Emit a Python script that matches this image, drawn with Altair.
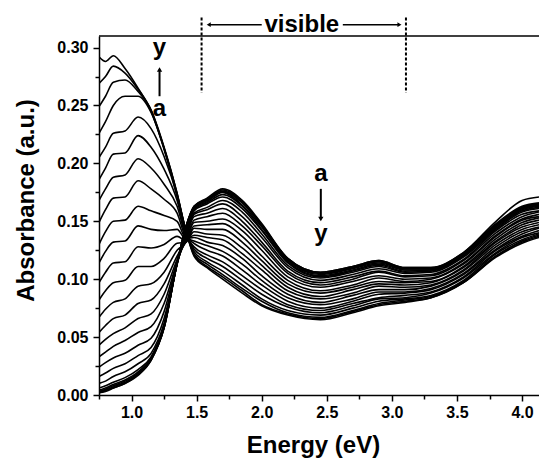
import altair as alt
import pandas as pd

# ---------------- data ----------------
energy = [0.75, 0.80, 0.86, 0.95, 1.05, 1.15, 1.25, 1.35, 1.42, 1.48,
          1.58, 1.70, 1.85, 2.00, 2.20, 2.45, 2.70, 2.90, 3.10, 3.30,
          3.55, 3.80, 4.00, 4.13]

curve_a = [0.002, 0.003, 0.006, 0.010, 0.017, 0.030, 0.058, 0.114, 0.146, 0.163, 0.170, 0.178, 0.168, 0.148, 0.118, 0.106, 0.111, 0.116, 0.110, 0.110, 0.123, 0.150, 0.168, 0.171]
curve_b = [0.002, 0.004, 0.006, 0.010, 0.018, 0.030, 0.058, 0.114, 0.146, 0.163, 0.169, 0.177, 0.167, 0.147, 0.118, 0.106, 0.111, 0.116, 0.110, 0.110, 0.123, 0.148, 0.163, 0.166]
curve_c = [0.003, 0.004, 0.007, 0.011, 0.018, 0.031, 0.058, 0.114, 0.146, 0.162, 0.169, 0.176, 0.166, 0.147, 0.117, 0.105, 0.110, 0.115, 0.109, 0.109, 0.122, 0.147, 0.162, 0.165]
curve_d = [0.003, 0.005, 0.008, 0.012, 0.019, 0.031, 0.059, 0.114, 0.146, 0.162, 0.168, 0.176, 0.166, 0.146, 0.117, 0.105, 0.110, 0.115, 0.109, 0.109, 0.122, 0.147, 0.162, 0.165]
curve_e = [0.004, 0.006, 0.009, 0.013, 0.020, 0.032, 0.059, 0.114, 0.145, 0.161, 0.167, 0.175, 0.164, 0.145, 0.116, 0.104, 0.109, 0.114, 0.109, 0.109, 0.122, 0.146, 0.161, 0.164]
curve_f = [0.006, 0.008, 0.011, 0.015, 0.022, 0.033, 0.060, 0.113, 0.144, 0.160, 0.166, 0.173, 0.163, 0.143, 0.115, 0.103, 0.108, 0.113, 0.108, 0.108, 0.121, 0.146, 0.161, 0.164]
curve_g = [0.010, 0.012, 0.016, 0.020, 0.027, 0.036, 0.062, 0.113, 0.142, 0.159, 0.165, 0.171, 0.161, 0.142, 0.114, 0.102, 0.107, 0.112, 0.107, 0.108, 0.121, 0.145, 0.160, 0.163]
curve_h = [0.016, 0.019, 0.023, 0.027, 0.034, 0.041, 0.066, 0.113, 0.140, 0.157, 0.162, 0.168, 0.158, 0.139, 0.112, 0.101, 0.106, 0.111, 0.106, 0.107, 0.120, 0.144, 0.159, 0.162]
curve_i = [0.024, 0.028, 0.032, 0.036, 0.043, 0.049, 0.072, 0.114, 0.138, 0.156, 0.160, 0.165, 0.154, 0.136, 0.110, 0.099, 0.104, 0.109, 0.105, 0.106, 0.119, 0.143, 0.158, 0.161]
curve_j = [0.033, 0.037, 0.042, 0.047, 0.054, 0.059, 0.079, 0.115, 0.136, 0.154, 0.157, 0.161, 0.150, 0.132, 0.107, 0.097, 0.102, 0.107, 0.103, 0.104, 0.117, 0.142, 0.156, 0.159]
curve_k = [0.043, 0.048, 0.053, 0.058, 0.066, 0.070, 0.087, 0.117, 0.134, 0.151, 0.154, 0.157, 0.146, 0.129, 0.105, 0.095, 0.100, 0.106, 0.102, 0.103, 0.116, 0.140, 0.154, 0.158]
curve_l = [0.054, 0.060, 0.066, 0.069, 0.079, 0.082, 0.096, 0.120, 0.133, 0.149, 0.150, 0.152, 0.142, 0.125, 0.102, 0.093, 0.098, 0.103, 0.100, 0.101, 0.114, 0.138, 0.152, 0.156]
curve_m = [0.067, 0.074, 0.080, 0.083, 0.094, 0.096, 0.106, 0.125, 0.132, 0.146, 0.147, 0.148, 0.137, 0.120, 0.099, 0.090, 0.095, 0.101, 0.098, 0.100, 0.113, 0.137, 0.151, 0.154]
curve_n = [0.082, 0.090, 0.097, 0.099, 0.111, 0.111, 0.118, 0.131, 0.132, 0.144, 0.143, 0.143, 0.132, 0.116, 0.096, 0.088, 0.093, 0.098, 0.097, 0.098, 0.111, 0.135, 0.149, 0.153]
curve_o = [0.097, 0.106, 0.114, 0.115, 0.128, 0.127, 0.130, 0.137, 0.133, 0.141, 0.139, 0.138, 0.127, 0.112, 0.093, 0.085, 0.091, 0.096, 0.095, 0.097, 0.110, 0.133, 0.147, 0.151]
curve_p = [0.114, 0.124, 0.132, 0.133, 0.146, 0.143, 0.142, 0.143, 0.134, 0.138, 0.136, 0.134, 0.122, 0.108, 0.090, 0.083, 0.088, 0.094, 0.093, 0.095, 0.108, 0.132, 0.145, 0.149]
curve_q = [0.130, 0.141, 0.150, 0.151, 0.163, 0.159, 0.155, 0.150, 0.135, 0.136, 0.132, 0.129, 0.118, 0.103, 0.087, 0.080, 0.086, 0.091, 0.091, 0.094, 0.107, 0.130, 0.143, 0.147]
curve_r = [0.149, 0.160, 0.170, 0.171, 0.185, 0.178, 0.169, 0.157, 0.136, 0.133, 0.129, 0.124, 0.113, 0.099, 0.084, 0.078, 0.083, 0.089, 0.089, 0.092, 0.105, 0.128, 0.141, 0.145]
curve_s = [0.168, 0.178, 0.188, 0.190, 0.204, 0.196, 0.182, 0.163, 0.137, 0.131, 0.125, 0.120, 0.108, 0.095, 0.081, 0.075, 0.081, 0.087, 0.088, 0.091, 0.104, 0.126, 0.139, 0.144]
curve_t = [0.186, 0.196, 0.208, 0.209, 0.224, 0.214, 0.195, 0.168, 0.138, 0.128, 0.121, 0.115, 0.103, 0.091, 0.078, 0.073, 0.079, 0.084, 0.086, 0.089, 0.102, 0.125, 0.137, 0.142]
curve_u = [0.205, 0.214, 0.226, 0.228, 0.240, 0.230, 0.206, 0.172, 0.139, 0.126, 0.118, 0.111, 0.099, 0.087, 0.076, 0.071, 0.077, 0.083, 0.084, 0.088, 0.101, 0.123, 0.136, 0.140]
curve_v = [0.226, 0.236, 0.250, 0.258, 0.258, 0.244, 0.213, 0.174, 0.140, 0.124, 0.115, 0.107, 0.095, 0.083, 0.073, 0.069, 0.075, 0.081, 0.083, 0.086, 0.099, 0.122, 0.134, 0.139]
curve_w = [0.249, 0.258, 0.270, 0.272, 0.262, 0.246, 0.214, 0.174, 0.141, 0.122, 0.113, 0.104, 0.092, 0.081, 0.071, 0.067, 0.073, 0.079, 0.082, 0.085, 0.098, 0.120, 0.133, 0.138]
curve_x = [0.269, 0.275, 0.284, 0.278, 0.264, 0.246, 0.213, 0.173, 0.141, 0.121, 0.111, 0.102, 0.090, 0.078, 0.070, 0.066, 0.072, 0.078, 0.081, 0.084, 0.097, 0.120, 0.132, 0.137]
curve_y = [0.292, 0.288, 0.293, 0.282, 0.265, 0.245, 0.212, 0.172, 0.141, 0.120, 0.110, 0.100, 0.088, 0.077, 0.069, 0.065, 0.071, 0.077, 0.080, 0.084, 0.097, 0.119, 0.131, 0.136]

curve_names = list("abcdefghijklmnopqrstuvwxy")
curves = [curve_a, curve_b, curve_c, curve_d, curve_e, curve_f, curve_g, curve_h,
          curve_i, curve_j, curve_k, curve_l, curve_m, curve_n, curve_o, curve_p,
          curve_q, curve_r, curve_s, curve_t, curve_u, curve_v, curve_w, curve_x,
          curve_y]

x_major = [1.0, 1.5, 2.0, 2.5, 3.0, 3.5, 4.0]
x_minor = [0.75, 1.25, 1.75, 2.25, 2.75, 3.25, 3.75]
y_major = [0.0, 0.05, 0.10, 0.15, 0.20, 0.25, 0.30]
y_minor = [0.025, 0.075, 0.125, 0.175, 0.225, 0.275]

# annotations
letter_text = ["y", "a", "a", "y"]
letter_energy = [1.215, 1.215, 2.454, 2.454]
letter_abs = [0.294, 0.241, 0.185, 0.133]

arrow_energy = [1.215, 2.454]
arrow_from = [0.258, 0.178]
arrow_to = [0.281, 0.152]
head_shape = ["triangle-up", "triangle-down"]

visible_edges = [1.538, 3.108]
visible_top = 0.326
visible_bottom = 0.261
visible_label = "visible"
visible_center = 2.308
visible_baseline = 0.3138
visible_arrow_level = 0.3198
visible_shaft_from = [1.60, 2.623]
visible_shaft_to = [2.00, 3.050]
visible_head_energy = [1.593, 3.058]
visible_head_shape = ["triangle-left", "triangle-right"]

# ---------------- tables ----------------
rows = []
for name, vals in zip(curve_names, curves):
    for e, v in zip(energy, vals):
        rows.append({"curve": name, "energy": e, "absorbance": v})
df = pd.DataFrame(rows)

letters_df = pd.DataFrame({"energy": letter_energy, "absorbance": letter_abs, "txt": letter_text})
arrows_df = pd.DataFrame({"energy": arrow_energy, "absorbance": arrow_from, "a2": arrow_to, "shape": head_shape})
dash_df = pd.DataFrame({"energy": visible_edges, "absorbance": [visible_top] * 2,
                        "a2": [visible_bottom] * 2})
vis_text_df = pd.DataFrame({"energy": [visible_center], "absorbance": [visible_baseline],
                            "txt": [visible_label]})
vis_shaft_df = pd.DataFrame({"energy": visible_shaft_from, "e2": visible_shaft_to,
                             "absorbance": [visible_arrow_level] * 2})
vis_head_df = pd.DataFrame({"energy": visible_head_energy,
                            "absorbance": [visible_arrow_level] * 2,
                            "shape": visible_head_shape})
minor_df = pd.DataFrame({"energy": [x_minor[0]], "absorbance": [y_minor[0]]})

FONT = "Liberation Sans"
x_scale = alt.Scale(domain=[0.75, 4.13], nice=False, zero=False)
y_scale = alt.Scale(domain=[0, 0.31], nice=False, zero=False)

x_axis = alt.Axis(
    orient="bottom", values=x_major, format=".1f", title="Energy (eV)", grid=False,
    tickSize=6, labelPadding=3, labelFlush=False, labelOverlap=False,
    titleX=214, titleY=57, titleBaseline="alphabetic", titleAlign="center",
)
y_axis = alt.Axis(
    orient="left", values=y_major, format=".2f", title="Absorbance (a.u.)", grid=False,
    tickSize=6, labelPadding=5, labelFlush=False, labelOverlap=False,
    titleX=-66, titleY=164, titleBaseline="alphabetic", titleAlign="center",
    titleAngle=270,
)
x_minor_axis = alt.Axis(orient="bottom", values=x_minor, labels=False, domain=False,
                        tickSize=4, title=None, grid=False)
y_minor_axis = alt.Axis(orient="left", values=y_minor, labels=False, domain=False,
                        tickSize=4, title=None, grid=False)

lines = alt.Chart(df).mark_line(
    color="black", strokeWidth=1.6, interpolate="monotone", clip=True
).encode(
    x=alt.X("energy:Q", scale=x_scale, axis=x_axis),
    y=alt.Y("absorbance:Q", scale=y_scale, axis=y_axis),
    detail="curve:N",
)

minor_ticks = alt.Chart(minor_df).mark_point(opacity=0).encode(
    x=alt.X("energy:Q", scale=x_scale, axis=x_minor_axis),
    y=alt.Y("absorbance:Q", scale=y_scale, axis=y_minor_axis),
)

top_border = alt.Chart(pd.DataFrame({"k": [0]})).mark_rule(
    color="black", strokeWidth=1.5
).encode(x=alt.value(0), x2=alt.value(440), y=alt.value(0))

X = alt.X("energy:Q", axis=None)
Y = alt.Y("absorbance:Q", axis=None)

letters = alt.Chart(letters_df).mark_text(
    font=FONT, fontSize=24, fontWeight="bold", color="black",
    align="center", baseline="alphabetic"
).encode(x=X, y=Y, text="txt:N")

arrow_shafts = alt.Chart(arrows_df).mark_rule(color="black", strokeWidth=2).encode(
    x=X, y=Y, y2="a2:Q")

arrow_heads = alt.Chart(arrows_df).mark_point(
    filled=True, color="black", size=28, opacity=1
).encode(x=X, y=alt.Y("a2:Q", axis=None),
         shape=alt.Shape("shape:N", scale=None, legend=None))

dashes = alt.Chart(dash_df).mark_rule(
    color="black", strokeWidth=2, strokeDash=[3, 2]
).encode(x=X, y=Y, y2="a2:Q")

vis_text = alt.Chart(vis_text_df).mark_text(
    font=FONT, fontSize=24, fontWeight="bold", color="black",
    align="center", baseline="alphabetic"
).encode(x=X, y=Y, text="txt:N")

vis_shafts = alt.Chart(vis_shaft_df).mark_rule(color="black", strokeWidth=1.5).encode(
    x=X, x2="e2:Q", y=Y)

vis_heads = alt.Chart(vis_head_df).mark_point(
    filled=True, color="black", size=22, opacity=1
).encode(x=X, y=Y, shape=alt.Shape("shape:N", scale=None, legend=None))

chart = alt.layer(
    lines, minor_ticks, top_border, letters, arrow_shafts, arrow_heads, dashes,
    vis_text, vis_shafts, vis_heads
).resolve_axis(
    x="independent", y="independent"
).properties(
    width=440, height=359,
    autosize=alt.AutoSizeParams(type="none"),
    padding={"left": 99, "top": 36, "right": 0, "bottom": 63},
    background="white",
).configure_view(stroke=None).configure_axis(
    domainColor="black", domainWidth=1.5, tickColor="black", tickWidth=1.5,
    labelFont=FONT, labelFontSize=16, labelFontWeight="bold", labelColor="black",
    titleFont=FONT, titleFontSize=24, titleFontWeight="bold", titleColor="black",
)

chart.save("out.html", embed_options={"renderer": "svg", "actions": False})
